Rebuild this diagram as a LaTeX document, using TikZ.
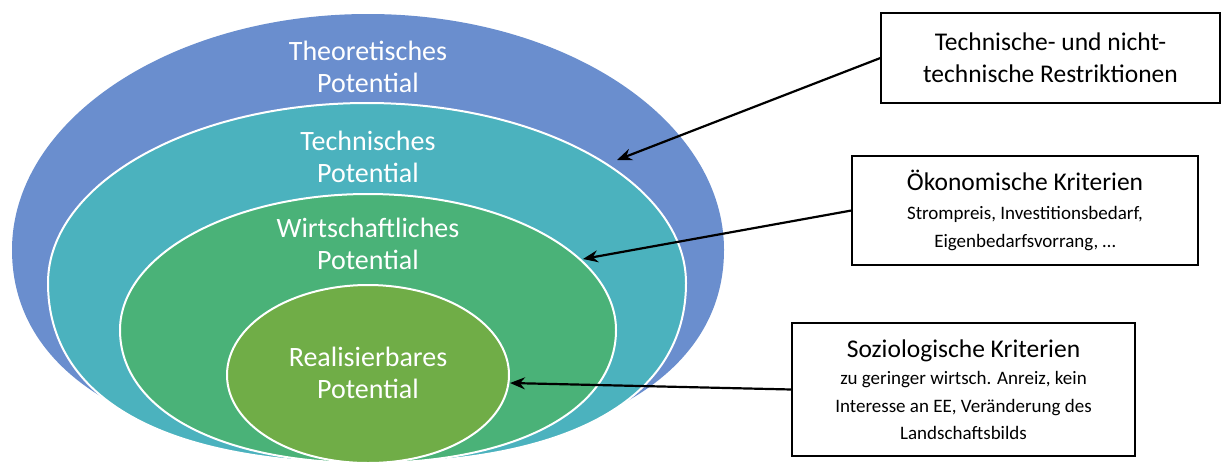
\documentclass[tikz,border=0pt]{standalone}
\usepackage{fontspec}
\setmainfont{Carlito}
\usetikzlibrary{arrows.meta,shapes.geometric}
\definecolor{cblue}{RGB}{106,142,206}
\definecolor{cteal}{RGB}{75,178,190}
\definecolor{cgreen}{RGB}{74,178,120}
\definecolor{colive}{RGB}{112,173,71}
% egg: #1 cx, #2 cy, #3 rx, #4 r-top, #5 r-bottom, #6 k-bottom
\newcommand{\myegg}[6]{%
  ({#1-#3},#2) .. controls ({#1-#3},{#2-0.5523*#4}) and ({#1-0.5523*#3},{#2-#4}) .. (#1,{#2-#4})
  .. controls ({#1+0.5523*#3},{#2-#4}) and ({#1+#3},{#2-0.5523*#4}) .. ({#1+#3},#2)
  .. controls ({#1+#3},{#2+#6*#5}) and ({#1+#6*#3},{#2+#5}) .. (#1,{#2+#5})
  .. controls ({#1-#6*#3},{#2+#5}) and ({#1-#3},{#2+#6*#5}) .. cycle}
\begin{document}
\begin{tikzpicture}[x=1pt,y=-1pt,
  ring/.style={draw=white,line width=2pt},
  ptext/.style={text=white,align=center,font=\fontsize{28}{31.5}\selectfont},
  infobox/.style={draw=black,line width=1.2pt,fill=white,align=center,inner sep=0pt},
  arr/.style={-{Stealth[length=15pt,width=12pt,inset=5pt]},line width=2.2pt,black}]
\useasboundingbox (0,0) rectangle (1223,461);
\clip (0,0) rectangle (1223,461);
\fill[white] (0,0) rectangle (1223,461);
% nested shapes
\fill[cblue] \myegg{368}{250}{356}{236}{205}{0.62};
\path[ring,fill=cteal] \myegg{367}{283}{319}{180}{180}{0.64};
\path[ring,fill=cgreen] \myegg{368}{330}{248}{136}{133}{0.6};
\path[ring,fill=colive] \myegg{368}{375}{141}{90}{88}{0.56};
% labels
\node[ptext] (ltheo) at (368,67) {Theoretisches\\Potential};
\node[ptext] (ltech) at (368,157) {Technisches\\Potential};
\node[ptext] (lwirt) at (368,244) {Wirtschaftliches\\Potential};
\node[ptext] (lreal) at (368,373) {Realisierbares\\Potential};
% boxes
\node[infobox,minimum width=339pt,minimum height=90pt,font=\fontsize{25.5}{32}\selectfont] (box1) at (1050.5,58) {Technische- und nicht-\\technische Restriktionen};
\node[infobox,minimum width=346pt,minimum height=109pt,font=\fontsize{19}{28.5}\selectfont] (box2) at (1025,210.5) {{\fontsize{25.5}{29}\selectfont Ökonomische Kriterien}\\Strompreis, Investitionsbedarf,\\Eigenbedarfsvorrang, …};
\node[infobox,minimum width=343pt,minimum height=133pt,font=\fontsize{19}{27.5}\selectfont] (box3) at (963.5,389.5) {{\fontsize{25.5}{29.5}\selectfont Soziologische Kriterien}\\zu geringer wirtsch. Anreiz, kein\\Interesse an EE, Veränderung des\\Landschaftsbilds};
% arrow tips
\coordinate (t1) at (617,160);
\coordinate (t2) at (583,259);
\coordinate (t3) at (510,383);
\draw[arr] (box1.west) -- (t1);
\draw[arr] (box2.west) -- (t2);
\draw[arr] (box3.west) -- (t3);
\end{tikzpicture}
\end{document}
